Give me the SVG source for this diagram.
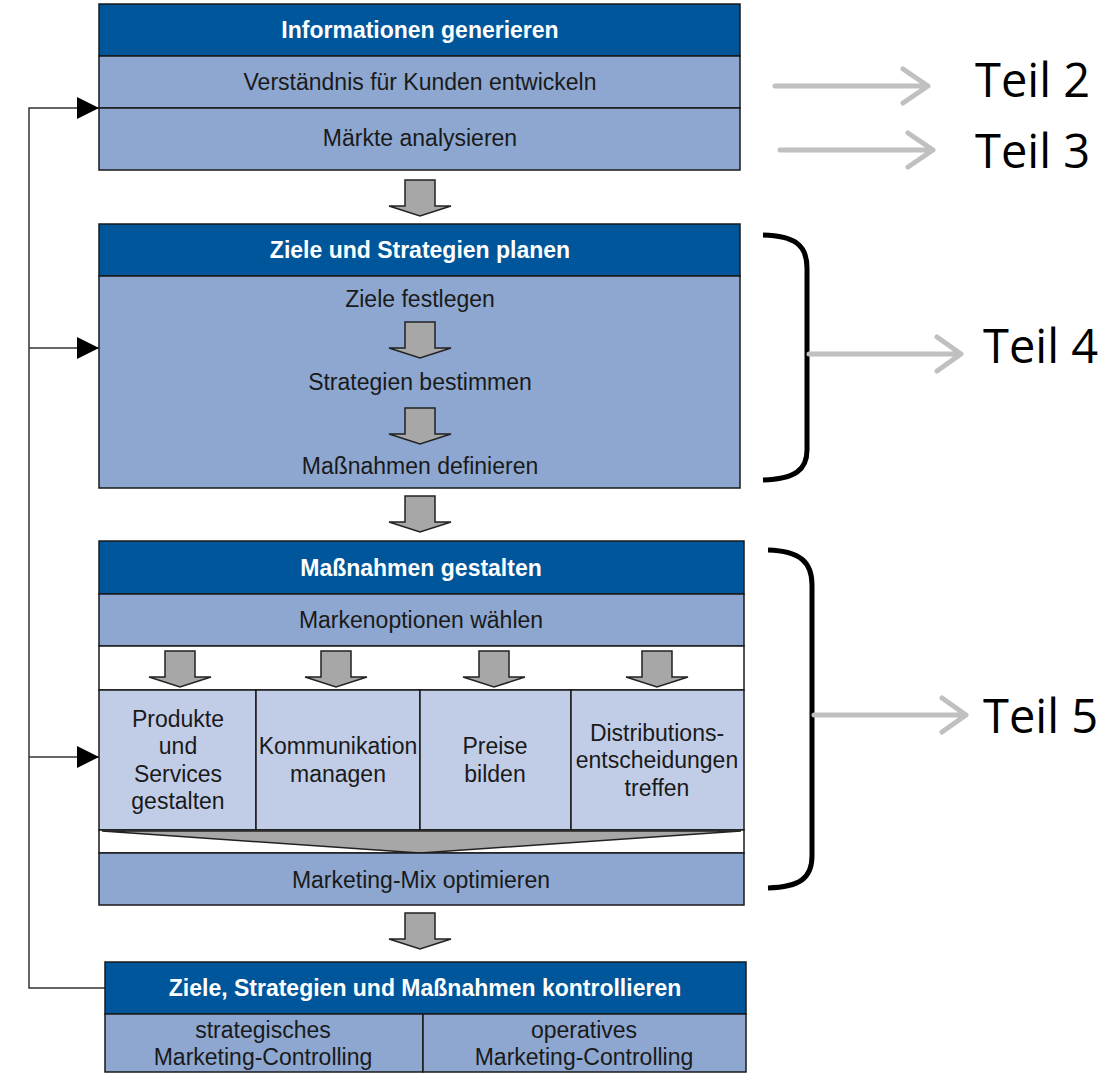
<svg xmlns="http://www.w3.org/2000/svg" xmlns:xlink="http://www.w3.org/1999/xlink" width="1115" height="1090" viewBox="0 0 1115 1090">
<style>
.hdr{fill:#00569a;stroke:#1a1a1a;stroke-width:1.5}
.row{fill:#8da7d0;stroke:#1a1a1a;stroke-width:1.5}
.cell{fill:#c1cde7;stroke:#1a1a1a;stroke-width:1.5}
.band{fill:#ffffff;stroke:#1a1a1a;stroke-width:1.5}
.barrow{fill:#a6a7a6;stroke:#222;stroke-width:1.5;stroke-linejoin:miter}
.ht{font-family:"Liberation Sans",Arial,sans-serif;font-size:23px;font-weight:bold;fill:#ffffff;text-anchor:middle}
.t{font-family:"Liberation Sans",Arial,sans-serif;font-size:23px;fill:#1a1a1a;text-anchor:middle}
.teil{font-family:"Open Sans","Liberation Sans",sans-serif;font-size:47px;fill:#000}
.fb{fill:none;stroke:#333;stroke-width:1.5}
.garrow{fill:none;stroke:#c0c0c0;stroke-width:5;stroke-linecap:round;stroke-linejoin:round}
.brace{fill:none;stroke:#000;stroke-width:5;stroke-linecap:butt}
</style>
<defs>
<path id="ba" class="barrow" d="M-15,0 H15 V26 H31 L0,36 L-31,26 H-15 Z"/>
<marker id="tri" markerWidth="22" markerHeight="22" refX="22" refY="11" orient="auto" markerUnits="userSpaceOnUse">
<path d="M0,0 L22,11 L0,22 Z" fill="#000"/>
</marker>
</defs>

<g id="connectors">
<path class="fb" d="M105,988 H29 V108 H99" marker-end="url(#tri)"/>
<path class="fb" d="M29,348 H99" marker-end="url(#tri)"/>
<path class="fb" d="M29,757 H99" marker-end="url(#tri)"/>
<use xlink:href="#ba" x="420" y="180"/>
<use xlink:href="#ba" x="420" y="496"/>
<use xlink:href="#ba" x="420" y="913"/>
</g>

<g id="block1">
<rect class="hdr" x="99" y="4" width="641" height="52"/>
<text class="ht" x="420" y="38">Informationen generieren</text>
<rect class="row" x="99" y="56" width="641" height="52"/>
<text class="t" x="420" y="90">Verständnis für Kunden entwickeln</text>
<rect class="row" x="99" y="108" width="641" height="62"/>
<text class="t" x="420" y="146">Märkte analysieren</text>
</g>

<g id="block2">
<rect class="hdr" x="99" y="224" width="641" height="52"/>
<text class="ht" x="420" y="258">Ziele und Strategien planen</text>
<rect class="row" x="99" y="276" width="641" height="212"/>
<text class="t" x="420" y="307">Ziele festlegen</text>
<use xlink:href="#ba" x="420" y="322"/>
<text class="t" x="420" y="390">Strategien bestimmen</text>
<use xlink:href="#ba" x="420" y="408"/>
<text class="t" x="420" y="474">Maßnahmen definieren</text>
</g>

<g id="block3">
<rect class="hdr" x="99" y="541" width="645" height="53"/>
<text class="ht" x="421" y="576">Maßnahmen gestalten</text>
<rect class="row" x="99" y="594" width="645" height="52"/>
<text class="t" x="421" y="628">Markenoptionen wählen</text>
<rect class="band" x="99" y="646" width="645" height="44"/>
<use xlink:href="#ba" x="180" y="651"/>
<use xlink:href="#ba" x="336" y="651"/>
<use xlink:href="#ba" x="494" y="651"/>
<use xlink:href="#ba" x="657" y="651"/>
<rect class="cell" x="99" y="690" width="157" height="140"/>
<rect class="cell" x="256" y="690" width="164" height="140"/>
<rect class="cell" x="420" y="690" width="151" height="140"/>
<rect class="cell" x="571" y="690" width="173" height="140"/>
<text class="t" x="178" y="727">Produkte</text>
<text class="t" x="178" y="754">und</text>
<text class="t" x="178" y="782">Services</text>
<text class="t" x="178" y="809">gestalten</text>
<text class="t" x="338" y="754">Kommunikation</text>
<text class="t" x="338" y="782">managen</text>
<text class="t" x="495" y="754">Preise</text>
<text class="t" x="495" y="782">bilden</text>
<text class="t" x="657" y="741">Distributions-</text>
<text class="t" x="657" y="768">entscheidungen</text>
<text class="t" x="657" y="796">treffen</text>
<rect class="band" x="99" y="830" width="645" height="23"/>
<path class="barrow" d="M102,831 H741 L420,853 Z"/>
<rect class="row" x="99" y="853" width="645" height="52"/>
<text class="t" x="421" y="888">Marketing-Mix optimieren</text>
</g>

<g id="block4">
<rect class="hdr" x="105" y="962" width="641" height="52"/>
<text class="ht" x="425" y="996">Ziele, Strategien und Maßnahmen kontrollieren</text>
<rect class="row" x="105" y="1014" width="318" height="58"/>
<rect class="row" x="423" y="1014" width="323" height="58"/>
<text class="t" x="263" y="1038">strategisches</text>
<text class="t" x="263" y="1065">Marketing-Controlling</text>
<text class="t" x="584" y="1038">operatives</text>
<text class="t" x="584" y="1065">Marketing-Controlling</text>
</g>

<g id="teil2">
<path class="garrow" d="M775,86 H928 M903,69 L928,86 L903,103"/>
<text class="teil" x="975" y="97">Teil 2</text>
</g>
<g id="teil3">
<path class="garrow" d="M780,150 H933 M908,133 L933,150 L908,167"/>
<text class="teil" x="975" y="168">Teil 3</text>
</g>
<g id="teil4">
<path class="brace" d="M763,235 C795,236 807,245 807,268 V450 C807,470 795,479 763,480"/>
<path class="garrow" d="M809,354 H961 M937,337 L961,354 L937,371"/>
<text class="teil" x="983" y="363">Teil 4</text>
</g>
<g id="teil5">
<path class="brace" d="M768,550 C800,551 812,562 812,585 V856 C812,878 800,887 768,888"/>
<path class="garrow" d="M814,715 H966 M942,698 L966,715 L942,732"/>
<text class="teil" x="983" y="733">Teil 5</text>
</g>
</svg>
